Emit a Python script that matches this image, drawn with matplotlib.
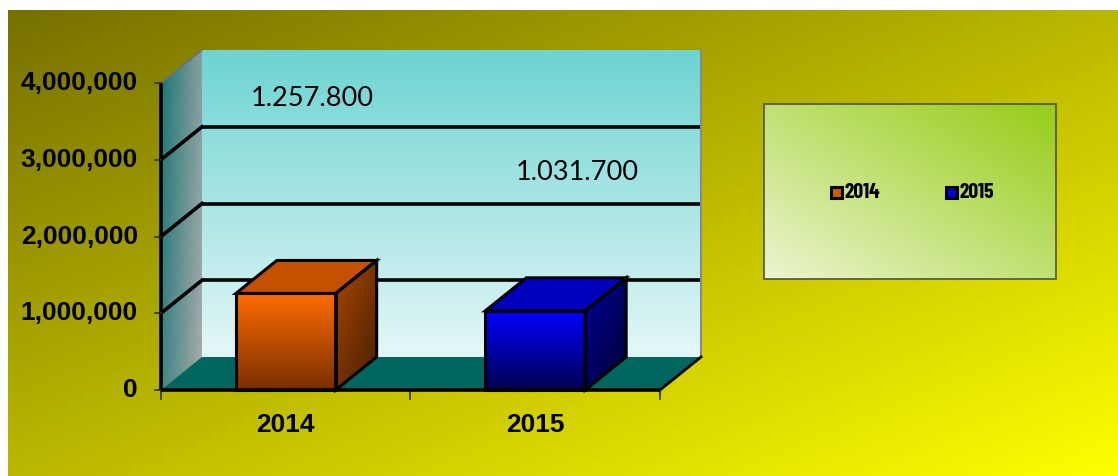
import numpy as np
import matplotlib
matplotlib.use('Agg')
import matplotlib.pyplot as plt
from matplotlib.patches import Polygon, Rectangle

# ---------------- data ----------------
categories = ['2014', '2015']
values = [1257800, 1031700]
value_labels = ['1.257.800', '1.031.700']
yticks = [0, 1000000, 2000000, 3000000, 4000000]
ytick_labels = ['0', '1,000,000', '2,000,000', '3,000,000', '4,000,000']

# ---------------- styles ----------------
front_top = [(255, 108, 0), (0, 0, 255)]
front_bot = [(120, 46, 0), (0, 0, 78)]
top_col = [(196, 80, 0), (0, 0, 190)]
side_a = [(170, 70, 0), (0, 0, 160)]
side_b = [(70, 30, 0), (0, 0, 45)]
legend_face = ['#d05a00', '#0000e0']

W, H = 1118, 476
fig = plt.figure(figsize=(W / 100, H / 100), dpi=100)
fig.patch.set_facecolor('white')
ax = fig.add_axes([0, 0, 1, 1])
ax.set_axis_off()

# front plane layout (pixels)
X0, X2, Y0, YTOP = 161, 660, 390, 83
ymax = yticks[-1]
sx = (X2 - X0) / len(categories)          # px per category unit
sy = (Y0 - YTOP) / ymax                    # px per value unit
ax.set_xlim(-X0 / sx, (W - X0) / sx)
ax.set_ylim(-(H - Y0) / sy, Y0 / sy)
DX = 41 / sx
DY = 33 / sy
NC = len(categories)


def P(xp, yp):
    return (xp - X0) / sx, (Y0 - yp) / sy


def to_rgb(c):
    return np.array(c, dtype=float) / 255.0


def grad_fill(verts, c0, c1, wfun, z):
    verts = np.asarray(verts, dtype=float)
    x0, x1 = verts[:, 0].min(), verts[:, 0].max()
    y0, y1 = verts[:, 1].min(), verts[:, 1].max()
    n = 300
    U, V = np.meshgrid(np.linspace(0, 1, n), np.linspace(0, 1, n))
    t = np.clip(wfun(U, V), 0, 1)[..., None]
    img = to_rgb(c0) * (1 - t) + to_rgb(c1) * t
    im = ax.imshow(img, extent=(x0, x1, y0, y1), origin='lower',
                   aspect='auto', zorder=z, interpolation='bilinear')
    poly = Polygon(verts, closed=True, facecolor='none', edgecolor='none',
                   transform=ax.transData)
    ax.add_patch(poly)
    im.set_clip_path(poly)
    return im


# background gradient (olive top-left -> yellow bottom-right)
bx0, by0 = P(8, H)
bx1, by1 = P(W, 10)
grad_fill([(bx0, by0), (bx1, by0), (bx1, by1), (bx0, by1)],
          (118, 112, 0), (255, 255, 0),
          lambda U, V: 0.5 * U + 0.5 * (1 - V), 0)

# back wall
grad_fill([(DX, DY), (NC + DX, DY), (NC + DX, ymax + DY), (DX, ymax + DY)],
          (229, 247, 247), (108, 212, 210), lambda U, V: V, 1)
# side wall
grad_fill([(0, 0), (DX, DY), (DX, ymax + DY), (0, ymax)],
          (28, 118, 118), (168, 172, 172),
          lambda U, V: 0.75 * U + 0.25 * (1 - V), 1)
# floor
ax.add_patch(Polygon([(0, 0), (NC, 0), (NC + DX, DY), (DX, DY)],
                     closed=True, facecolor='#006660', edgecolor='none', zorder=2))

# gridlines
for v in yticks[1:-1]:
    ax.plot([DX, NC + DX], [v + DY, v + DY], color='black', lw=2.6, zorder=3,
            solid_capstyle='butt')
    ax.plot([0, DX], [v, v + DY], color='black', lw=2.6, zorder=3)
# wall edges
ax.plot([0, DX], [ymax, ymax + DY], color='#707070', lw=1.2, zorder=3)
ax.plot([NC + DX, NC + DX], [DY, ymax + DY], color='#8a8a8a', lw=1.5, zorder=3)
ax.plot([NC, NC + DX], [0, DY], color='black', lw=2.0, zorder=3)
# axis lines
ax.plot([0, NC], [0, 0], color='black', lw=2.6, zorder=6, solid_capstyle='butt')
ax.plot([0, 0], [0, ymax], color='black', lw=2.6, zorder=3, solid_capstyle='butt')

# ticks
for v, lab in zip(yticks, ytick_labels):
    ax.plot([-6 / sx, 0], [v, v], color='#303000', lw=1.2, zorder=3)
    ax.text(-23 / sx, v, lab, ha='right', va='center', fontsize=19,
            fontweight='bold', family='Liberation Sans', color='black', zorder=7)
for i in range(NC + 1):
    ax.plot([i, i], [0, -9 / sy], color='#303000', lw=1.2, zorder=3)
for i, c in enumerate(categories):
    ax.text(i + 0.5, -35 / sy, c, ha='center', va='center', fontsize=19,
            fontweight='bold', family='Liberation Sans', color='black', zorder=7)

# 3D bars
bw = 0.4
for i, v in enumerate(values):
    xl = i + 0.5 - bw / 2
    xr = i + 0.5 + bw / 2
    front = [(xl, 0), (xr, 0), (xr, v), (xl, v)]
    top = [(xl, v), (xr, v), (xr + DX, v + DY), (xl + DX, v + DY)]
    side = [(xr, 0), (xr + DX, DY), (xr + DX, v + DY), (xr, v)]
    grad_fill(front, front_bot[i], front_top[i], lambda U, Vv: Vv, 4)
    ax.add_patch(Polygon(top, closed=True, facecolor=to_rgb(top_col[i]),
                         edgecolor='none', zorder=4))
    grad_fill(side, side_a[i], side_b[i],
              lambda U, Vv: 0.45 * U + 0.55 * (1 - Vv), 4)
    for poly in (front, top, side):
        ax.add_patch(Polygon(poly, closed=True, fill=False, edgecolor='black',
                             lw=2.2, joinstyle='miter', zorder=5))

# value labels (positions are layout)
label_pos_px = [(312, 98), (577, 172)]
for (xp, yp), t in zip(label_pos_px, value_labels):
    lx, ly = P(xp, yp)
    ax.text(lx, ly, t, ha='center', va='center', fontsize=19.5,
            family='Lato', color='black', zorder=7)

# legend box
lx0, ly0 = P(764, 279)
lx1, ly1 = P(1056, 104)
grad_fill([(lx0, ly0), (lx1, ly0), (lx1, ly1), (lx0, ly1)],
          (236, 245, 208), (150, 204, 22),
          lambda U, V: 0.5 * U + 0.5 * V, 8)
ax.add_patch(Polygon([(lx0, ly0), (lx1, ly0), (lx1, ly1), (lx0, ly1)],
                     closed=True, fill=False, edgecolor='#505050', lw=1.2, zorder=9))
leg_px = [831, 946]
for i, c in enumerate(categories):
    mx0, my0 = P(leg_px[i], 198)
    mx1, my1 = P(leg_px[i] + 11, 187)
    ax.add_patch(Rectangle((mx0, my0), mx1 - mx0, my1 - my0,
                           facecolor=legend_face[i], edgecolor='black',
                           lw=2.2, zorder=10))
    tx, ty = P(leg_px[i] + 14, 192)
    ax.text(tx, ty, c, ha='left', va='center', fontsize=15.5, fontweight='bold',
            family=['Liberation Sans Narrow', 'Barlow Condensed', 'Liberation Sans'],
            color='black', zorder=10)

fig.savefig('out.png', dpi=100, facecolor=fig.get_facecolor())
